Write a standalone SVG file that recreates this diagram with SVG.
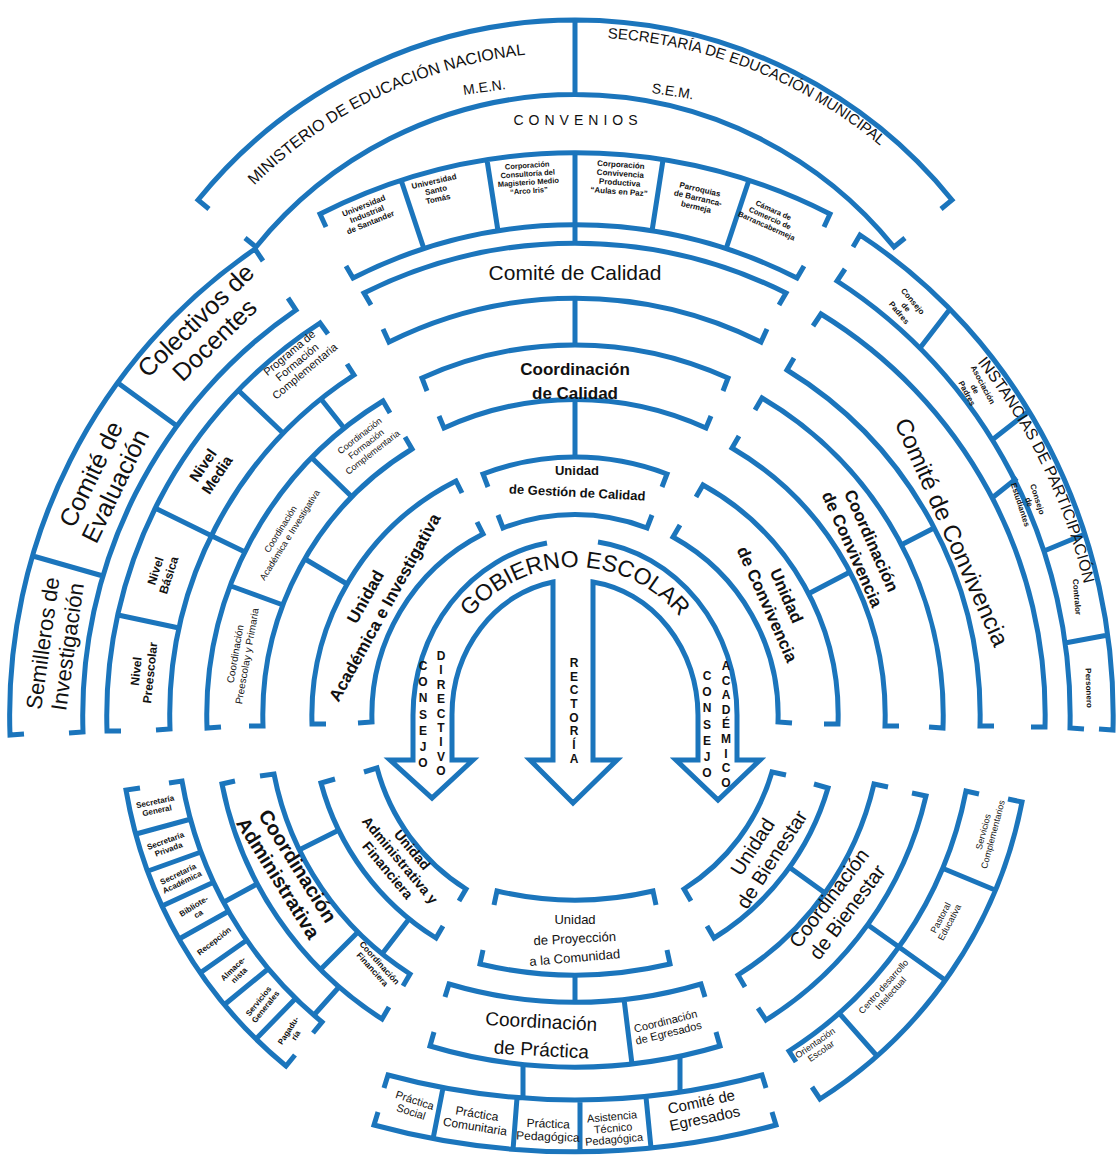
<svg xmlns="http://www.w3.org/2000/svg" width="1120" height="1155" viewBox="0 0 1120 1155">
<style>
.ln{fill:none;stroke:#1b75bc;stroke-width:5;stroke-linejoin:miter}
.t{font-family:"Liberation Sans",Arial,sans-serif;fill:#111;text-anchor:middle}
.b{font-weight:bold}
</style>
<defs>
<path id="pMEN" d="M183,279 A453,453 0 0 1 643,57"/>
<path id="pSEM" d="M560,38 A467,467 0 0 1 915,178"/>
<path id="pGOB" d="M435,715 A140,148 0 0 1 715,715"/>
<path id="pINS" d="M883,270 A524,550 0 0 1 1099,715"/>
</defs>
<rect width="1120" height="1155" fill="#fff"/>

<g id="connectors" class="ln">
<path d="M575,153 L575,243 M575,298 L575,345 M575,400 L575,457"/>
<path d="M347,584 L305,559 M245,552 L212,536 M344,428 L321,399"/>
<path d="M808,594 L850,572 M901,545 L934,528 M992,498 L1017,478"/>
<path d="M339,830 L299,850 M257,884 L224,902 M409,919 L382,954 M339,987 L314,1015"/>
<path d="M789,867 L825,893 M868,925 L899,947"/>
<path d="M575,975 L575,1002 M523,1064 L523,1098 M680,1056 L680,1092"/>
</g>

<g id="men-sem">
<path class="ln" d="M209,209 L198,200 A485,485 0 0 1 952,200 L941,209 M245,238 L256,247 A410,410 0 0 1 894,247 L905,238 M575,20 L575,97"/>
<text class="t" font-size="16"><textPath href="#pMEN" startOffset="50%">MINISTERIO DE EDUCACIÓN NACIONAL</textPath></text>
<text class="t" font-size="14" transform="translate(485,92) rotate(-8)">M.E.N.</text>
<text class="t" font-size="15"><textPath href="#pSEM" startOffset="50%">SECRETARÍA DE EDUCACIÓN MUNICIPAL</textPath></text>
<text class="t" font-size="14" transform="translate(672,96) rotate(9)">S.E.M.</text>
<text class="t" font-size="14" x="578" y="125" letter-spacing="5">CONVENIOS</text>
</g>

<g id="convenios">
<path class="ln" d="M326,227 L320,214 A562,562 0 0 1 830,214 L824,227 M346,266 L353,278 A490,490 0 0 1 797,278 L804,266 M424,249 L401,180 M498,231 L487,160 M652,231 L663,160 M726,249 L749,180"/>
<g class="t b" font-size="8">
<text transform="translate(367,214) rotate(-22)"><tspan x="0" y="-6.2">Universidad</tspan><tspan x="0" y="2.8">Industrial</tspan><tspan x="0" y="11.8">de Santander</tspan></text>
<text transform="translate(436,190) rotate(-13)"><tspan x="0" y="-6.2">Universidad</tspan><tspan x="0" y="2.8">Santo</tspan><tspan x="0" y="11.8">Tomás</tspan></text>
<text transform="translate(528,178) rotate(-4)" font-size="7.5"><tspan x="0" y="-10.15">Corporación</tspan><tspan x="0" y="-1.65">Consultoría del</tspan><tspan x="0" y="6.85">Magisterio Medio</tspan><tspan x="0" y="15.35">“Arco Iris”</tspan></text>
<text transform="translate(620,178) rotate(4)"><tspan x="0" y="-10.7">Corporación</tspan><tspan x="0" y="-1.7">Convivencia</tspan><tspan x="0" y="7.3">Productiva</tspan><tspan x="0" y="16.3">“Aulas en Paz”</tspan></text>
<text transform="translate(698,198) rotate(13)"><tspan x="0" y="-6.2">Parroquias</tspan><tspan x="0" y="2.8">de Barranca-</tspan><tspan x="0" y="11.8">bermeja</tspan></text>
<text transform="translate(770,218) rotate(24)" font-size="7.5"><tspan x="0" y="-5.9">Cámara de</tspan><tspan x="0" y="2.6">Comercio de</tspan><tspan x="0" y="11.1">Barrancabermeja</tspan></text>
</g>
</g>

<g id="comite-calidad">
<path class="ln" d="M371,305 L364,293 A472,472 0 0 1 786,293 L779,305 M383,329 L389,342 A417,417 0 0 1 761,342 L767,329"/>
<text class="t" font-size="21" x="575" y="280">Comité de Calidad</text>
</g>
<g id="coord-calidad">
<path class="ln" d="M427,391 L422,378 A370,370 0 0 1 728,378 L723,391 M439,416 L444,428 A315,315 0 0 1 706,428 L711,416"/>
<text class="t b" font-size="17" x="575" y="375">Coordinación</text>
<text class="t b" font-size="17" x="575" y="399">de Calidad</text>
</g>
<g id="unidad-gestion-calidad">
<path class="ln" d="M488,487 L483,474 A258,258 0 0 1 667,474 L662,487 M498,515 L503,528 A200,200 0 0 1 647,528 L652,515"/>
<text class="t b" font-size="13" x="577" y="475">Unidad</text>
<text class="t b" font-size="13" transform="translate(577,497) rotate(3)">de Gestión de Calidad</text>
</g>

<g id="apoyo-academico">
<path class="ln" d="M24,734 L10,735 A565,565 0 0 1 255,249 L263,261 M69,733 L83,732 A492,492 0 0 1 296,310 L288,298 M103,576 L33,556 M177,426 L118,383"/>
<text class="t" font-size="22" transform="translate(55,645) rotate(-82)"><tspan x="0" y="-4.8">Semilleros de</tspan><tspan x="0" y="20.2">Investigación</tspan></text>
<text class="t" font-size="25" transform="translate(103,480) rotate(-64)"><tspan x="0" y="-4.75">Comité de</tspan><tspan x="0" y="22.25">Evaluación</tspan></text>
<text class="t" font-size="25" transform="translate(205,330) rotate(-44)"><tspan x="0" y="-4.75">Colectivos de</tspan><tspan x="0" y="22.25">Docentes</tspan></text>
</g>

<g id="niveles">
<path class="ln" d="M121,731 L107,731 A468,468 0 0 1 320,323 L328,334 M156,730 L170,729 A405,405 0 0 1 354,375 L347,364 M179,628 L118,615 M212,536 L155,508 M284,434 L238,390"/>
<text class="t b" font-size="12" transform="translate(143,672) rotate(-84)"><tspan x="0" y="-2.8">Nivel</tspan><tspan x="0" y="11.2">Preescolar</tspan></text>
<text class="t b" font-size="12" transform="translate(162,573) rotate(-72)"><tspan x="0" y="-2.8">Nivel</tspan><tspan x="0" y="11.2">Básica</tspan></text>
<text class="t b" font-size="15" transform="translate(210,470) rotate(-56)"><tspan x="0" y="-3.25">Nivel</tspan><tspan x="0" y="13.75">Media</tspan></text>
<text class="t" font-size="11" transform="translate(297,362) rotate(-40)"><tspan x="0" y="-8.15">Programa de</tspan><tspan x="0" y="3.85">Formación</tspan><tspan x="0" y="15.85">Complementaria</tspan></text>
</g>

<g id="coordinaciones-academicas">
<path class="ln" d="M221,727 L207,728 A368,368 0 0 1 383,401 L390,413 M249,726 L263,726 A312,312 0 0 1 412,449 L405,437 M283,605 L231,586 M352,497 L312,458"/>
<text class="t" font-size="10" transform="translate(241,655) rotate(-80)"><tspan x="0" y="-2.5">Coordinación</tspan><tspan x="0" y="9.5">Preescolay y Primaria</tspan></text>
<text class="t" font-size="9" transform="translate(285,532) rotate(-58)"><tspan x="0" y="-2.35">Coordinación</tspan><tspan x="0" y="8.65">Académica e Investigativa</tspan></text>
<text class="t" font-size="9" transform="translate(366,444) rotate(-38)"><tspan x="0" y="-7.35">Coordinación</tspan><tspan x="0" y="3.15">Formación</tspan><tspan x="0" y="13.65">Complementaria</tspan></text>
</g>

<g id="unidad-academica">
<path class="ln" d="M326,724 L312,724 A263,263 0 0 1 456,481 L462,493 M358,723 L372,722 A203,203 0 0 1 483,534 L477,522"/>
<text class="t b" font-size="17" transform="translate(375,602) rotate(-61)"><tspan x="0" y="-5.05">Unidad</tspan><tspan x="0" y="16.95">Académica e Investigativa</tspan></text>
</g>

<g id="instancias">
<path class="ln" d="M853,247 L860,235 A538,566 0 0 1 1113,730 L1099,729 M845,269 L837,281 A495,512 0 0 1 1070,728 L1084,729 M920,348 L950,309 M992,440 L1029,411 M1044,551 L1085,534 M1065,643 L1108,635"/>
<text class="t" font-size="16"><textPath href="#pINS" startOffset="50%">INSTANCIAS DE PARTICIPACIÓN</textPath></text>
<g class="t b" font-size="8">
<text transform="translate(906,307) rotate(50)"><tspan x="0" y="-6.2">Consejo</tspan><tspan x="0" y="2.8">de</tspan><tspan x="0" y="11.8">Padres</tspan></text>
<text transform="translate(975,389) rotate(62)"><tspan x="0" y="-6.2">Asociación</tspan><tspan x="0" y="2.8">de</tspan><tspan x="0" y="11.8">Padres</tspan></text>
<text transform="translate(1029,502) rotate(72)"><tspan x="0" y="-6.2">Consejo</tspan><tspan x="0" y="2.8">de</tspan><tspan x="0" y="11.8">Estudiantes</tspan></text>
<text transform="translate(1077,597) rotate(85)" y="2.8">Contralor</text>
<text transform="translate(1089,688) rotate(88)" y="2.8">Personero</text>
</g>
</g>

<g id="comite-convivencia">
<path class="ln" d="M813,326 L821,314 A470,470 0 0 1 1045,727 L1031,727 M794,358 L787,370 A405,405 0 0 1 980,726 L994,726"/>
<text class="t" font-size="24" transform="translate(952,532) rotate(66)" y="8.4">Comité de Convivencia</text>
</g>
<g id="coord-convivencia">
<path class="ln" d="M755,410 L762,398 A368,368 0 0 1 943,728 L929,727 M739,436 L732,448 A310,310 0 0 1 885,726 L899,726"/>
<text class="t b" font-size="17" transform="translate(862,545) rotate(66)"><tspan x="0" y="-4.55">Coordinación</tspan><tspan x="0" y="16.45">de Convivencia</tspan></text>
</g>
<g id="unidad-convivencia">
<path class="ln" d="M696,497 L703,485 A263,263 0 0 1 838,724 L824,724 M680,525 L673,537 A203,203 0 0 1 778,722 L792,723"/>
<text class="t b" font-size="17" transform="translate(777,600) rotate(66)"><tspan x="0" y="-4.55">Unidad</tspan><tspan x="0" y="16.45">de Convivencia</tspan></text>
</g>

<g id="gobierno-escolar">
<path class="ln" d="M547,543 A162,175 0 0 0 413,715 L413,760 L390,760 L432,798 L473,760 L452,760 L452,715 A123,135 0 0 1 553,582 L553,760 L530,760 L573,803 L617,760 L593,760 L593,582 A123,135 0 0 1 698,715 L698,760 L676,760 L718,800 L760,760 L737,760 L737,715 A162,175 0 0 0 598,542"/>
<text class="t" font-size="23"><textPath href="#pGOB" startOffset="50%">GOBIERNO ESCOLAR</textPath></text>
<text class="t b" font-size="12"><tspan x="423" y="670">C</tspan><tspan x="423" y="686">O</tspan><tspan x="423" y="702">N</tspan><tspan x="423" y="719">S</tspan><tspan x="423" y="735">E</tspan><tspan x="423" y="751">J</tspan><tspan x="423" y="767">O</tspan></text>
<text class="t b" font-size="12"><tspan x="441" y="660">D</tspan><tspan x="441" y="674">I</tspan><tspan x="441" y="689">R</tspan><tspan x="441" y="703">E</tspan><tspan x="441" y="718">C</tspan><tspan x="441" y="732">T</tspan><tspan x="441" y="746">I</tspan><tspan x="441" y="761">V</tspan><tspan x="441" y="775">O</tspan></text>
<text class="t b" font-size="12"><tspan x="574" y="667">R</tspan><tspan x="574" y="681">E</tspan><tspan x="574" y="694">C</tspan><tspan x="574" y="708">T</tspan><tspan x="574" y="722">O</tspan><tspan x="574" y="735">R</tspan><tspan x="574" y="749">Í</tspan><tspan x="574" y="763">A</tspan></text>
<text class="t b" font-size="12"><tspan x="707" y="680">C</tspan><tspan x="707" y="696">O</tspan><tspan x="707" y="712">N</tspan><tspan x="707" y="729">S</tspan><tspan x="707" y="745">E</tspan><tspan x="707" y="761">J</tspan><tspan x="707" y="777">O</tspan></text>
<text class="t b" font-size="12"><tspan x="726" y="670">A</tspan><tspan x="726" y="685">C</tspan><tspan x="726" y="699">A</tspan><tspan x="726" y="714">D</tspan><tspan x="726" y="728">É</tspan><tspan x="726" y="743">M</tspan><tspan x="726" y="758">I</tspan><tspan x="726" y="772">C</tspan><tspan x="726" y="787">O</tspan></text>
</g>

<g id="secretarias">
<path class="ln" d="M295,1055 L286,1066 A455,455 0 0 1 126,790 L140,788 M313,1033 L322,1022 A398,398 0 0 1 182,781 L169,783 M191,819 L136,834 M201,852 L148,871 M214,882 L162,906 M229,911 L179,939 M247,940 L200,973 M268,969 L224,1005 M296,998 L256,1039"/>
<g class="t b" font-size="8">
<text transform="translate(156,806) rotate(-12)"><tspan x="0" y="-1.7">Secretaría</tspan><tspan x="0" y="7.3">General</tspan></text>
<text transform="translate(167,845) rotate(-20)"><tspan x="0" y="-1.7">Secretaría</tspan><tspan x="0" y="7.3">Privada</tspan></text>
<text transform="translate(180,878) rotate(-26)"><tspan x="0" y="-1.7">Secretaría</tspan><tspan x="0" y="7.3">Académica</tspan></text>
<text transform="translate(196,910) rotate(-32)"><tspan x="0" y="-1.7">Bibliote-</tspan><tspan x="0" y="7.3">ca</tspan></text>
<text transform="translate(214,941) rotate(-38)" y="2.8">Recepción</text>
<text transform="translate(236,972) rotate(-44)"><tspan x="0" y="-1.7">Almace-</tspan><tspan x="0" y="7.3">nista</tspan></text>
<text transform="translate(262,1004) rotate(-51)"><tspan x="0" y="-1.7">Servicios</tspan><tspan x="0" y="7.3">Generales</tspan></text>
<text transform="translate(292,1033) rotate(-57)"><tspan x="0" y="-1.7">Pagadu-</tspan><tspan x="0" y="7.3">ría</tspan></text>
</g>
</g>

<g id="coord-administrativa">
<path class="ln" d="M389,1007 L382,1019 A360,360 0 0 1 222,784 L235,781 M403,986 L410,974 A307,307 0 0 1 274,774 L260,776 M358,932 L320,970"/>
<text class="t b" font-size="20" transform="translate(288,872) rotate(58)"><tspan x="0" y="-4.5">Coordinación</tspan><tspan x="0" y="18.5">Administrativa</tspan></text>
<text class="t b" font-size="8.5" transform="translate(376,966) rotate(48)"><tspan x="0" y="-1.75">Coordinación</tspan><tspan x="0" y="7.75">Financiera</tspan></text>
</g>

<g id="unidad-administrativa">
<path class="ln" d="M443,926 L436,938 A263,263 0 0 1 321,783 L335,779 M459,901 L466,889 A205,205 0 0 1 377,768 L364,772"/>
<text class="t b" font-size="14" transform="translate(400,860) rotate(50)"><tspan x="0" y="-11.1">Unidad</tspan><tspan x="0" y="4.9">Administrativa y</tspan><tspan x="0" y="20.9">Financiera</tspan></text>
</g>

<g id="unidad-bienestar">
<path class="ln" d="M814,784 L828,788 A263,263 0 0 1 714,938 L707,926 M786,775 L772,772 A205,205 0 0 1 684,889 L691,901"/>
<text class="t" font-size="20" transform="translate(762,853) rotate(-57)"><tspan x="0" y="-4.5">Unidad</tspan><tspan x="0" y="18.5">de Bienestar</tspan></text>
</g>
<g id="coord-bienestar">
<path class="ln" d="M912,793 L926,796 A360,360 0 0 1 766,1020 L758,1008 M888,787 L874,784 A307,307 0 0 1 738,975 L745,987"/>
<text class="t" font-size="20" transform="translate(838,905) rotate(-53)"><tspan x="0" y="-4.5">Coordinación</tspan><tspan x="0" y="18.5">de Bienestar</tspan></text>
</g>
<g id="servicios-bienestar">
<path class="ln" d="M1008,799 L1022,802 A455,455 0 0 1 820,1099 L812,1087 M979,794 L966,791 A398,398 0 0 1 789,1051 L796,1062 M942,868 L995,890 M899,947 L945,980 M839,1013 L877,1056"/>
<g class="t" font-size="9">
<text transform="translate(988,833) rotate(-75)"><tspan x="0" y="-1.85">Servicios</tspan><tspan x="0" y="8.15">Complementarios</tspan></text>
<text transform="translate(945,920) rotate(-62)"><tspan x="0" y="-1.85">Pastoral</tspan><tspan x="0" y="8.15">Educativa</tspan></text>
<text transform="translate(887,990) rotate(-48)"><tspan x="0" y="-1.85">Centro desarrollo</tspan><tspan x="0" y="8.15">Intelectual</tspan></text>
<text transform="translate(818,1047) rotate(-35)"><tspan x="0" y="-1.85">Orientación</tspan><tspan x="0" y="8.15">Escolar</tspan></text>
</g>
</g>

<g id="unidad-proyeccion">
<path class="ln" d="M667,950 L670,964 A415,415 0 0 1 480,964 L483,950 M656,905 L653,891 A340,340 0 0 1 497,891 L494,905"/>
<text class="t" font-size="13" x="575" y="924">Unidad</text>
<text class="t" font-size="13" transform="translate(575,943) rotate(-3)">de Proyección</text>
<text class="t" font-size="13" transform="translate(575,962) rotate(-5)">a la Comunidad</text>
</g>
<g id="coord-practica">
<path class="ln" d="M716,1032 L720,1046 A507,507 0 0 1 430,1046 L434,1032 M705,997 L701,984 A442,442 0 0 1 449,984 L445,997 M624,999 L632,1064"/>
<text class="t" font-size="19" transform="translate(541,1028) rotate(3)">Coordinación</text>
<text class="t" font-size="19" transform="translate(541,1056) rotate(3)">de Práctica</text>
<text class="t" font-size="11" transform="translate(667,1027) rotate(-14)"><tspan x="0" y="-2.15">Coordinación</tspan><tspan x="0" y="9.85">de Egresados</tspan></text>
</g>
<g id="practicas">
<path class="ln" d="M772,1112 L776,1125 A767,767 0 0 1 374,1125 L378,1112 M766,1088 L762,1075 A715,715 0 0 1 388,1075 L384,1088 M443,1088 L433,1139 M517,1098 L513,1150 M580,1100 L580,1152 M646,1097 L651,1148"/>
<text class="t" font-size="11" transform="translate(413,1106) rotate(18)"><tspan x="0" y="-2.15">Práctica</tspan><tspan x="0" y="9.85">Social</tspan></text>
<text class="t" font-size="12" transform="translate(476,1120) rotate(9)"><tspan x="0" y="-2.3">Práctica</tspan><tspan x="0" y="10.7">Comunitaria</tspan></text>
<text class="t" font-size="12" transform="translate(548,1130) rotate(2)"><tspan x="0" y="-2.3">Práctica</tspan><tspan x="0" y="10.7">Pedagógica</tspan></text>
<text class="t" font-size="11" transform="translate(613,1128) rotate(-5)"><tspan x="0" y="-7.65">Asistencia</tspan><tspan x="0" y="3.85">Técnico</tspan><tspan x="0" y="15.35">Pedagógica</tspan></text>
<text class="t" font-size="15" transform="translate(703,1110) rotate(-12)"><tspan x="0" y="-3.25">Comité de</tspan><tspan x="0" y="13.75">Egresados</tspan></text>
</g>
</svg>
